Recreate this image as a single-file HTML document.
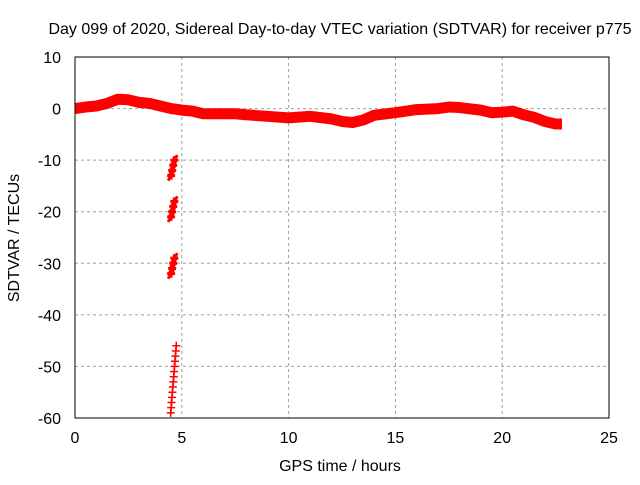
<!DOCTYPE html>
<html><head><meta charset="utf-8"><style>
body{margin:0;background:#fff}
text{font-family:"Liberation Sans",sans-serif;font-size:16px;fill:#000}
</style></head><body>
<svg id="chart" width="640" height="480" xmlns="http://www.w3.org/2000/svg">
<text x="340" y="34" text-anchor="middle">Day 099 of 2020, Sidereal Day-to-day VTEC variation (SDTVAR) for receiver p775</text>
<text x="340" y="471" text-anchor="middle">GPS time / hours</text>
<text transform="translate(19,238) rotate(-90)" text-anchor="middle">SDTVAR / TECUs</text>
<g id="grid"></g><g id="ticks"></g><g id="marks"></g>
<rect x="75" y="57" width="534" height="361" fill="none" stroke="#000" stroke-width="1"/>
</svg>
<script>
const xTicks=[0,5,10,15,20,25];
const yTicks=[10,0,-10,-20,-30,-40,-50,-60];
const bandHours=[0,0.5,1,1.5,2,2.5,3,3.5,4,4.5,5,5.5,6,6.5,7,7.5,8,9,10,11,12,12.5,13,13.5,14,15,16,17,17.5,18,19,19.5,20,20.5,21,21.5,22,22.5,22.8];
const bandValues=[0,0.3,0.5,1,1.8,1.7,1.2,1,0.5,0,-0.3,-0.5,-1,-1,-1,-1,-1.2,-1.5,-1.8,-1.5,-2,-2.5,-2.7,-2.2,-1.3,-0.8,-0.2,0,0.3,0.2,-0.3,-0.8,-0.7,-0.5,-1.2,-1.7,-2.5,-3,-3];
const spikeHours=[4.5,4.55,4.6,4.65,4.5,4.55,4.6,4.65,4.5,4.55,4.6,4.65];
const spikeValues=[-13,-12,-11,-10,-21,-20,-19,-18,-32,-31,-30,-29];
const tailHours=[4.48,4.5,4.52,4.54,4.56,4.58,4.6,4.62,4.64,4.66,4.68,4.7,4.72,4.74];
const tailValues=[-59,-58,-57,-56,-55,-54,-53,-52,-51,-50,-49,-48,-47,-46];
const X=h=>75+h*534/25, Y=v=>57+(10-v)*361/70;
const NS="http://www.w3.org/2000/svg";
function mk(t,a,p){const e=document.createElementNS(NS,t);for(const k in a)e.setAttribute(k,a[k]);p.appendChild(e);return e;}
const grid=document.getElementById('grid'),ticks=document.getElementById('ticks'),marks=document.getElementById('marks');
xTicks.forEach(t=>{
 if(t>0&&t<25){const g=mk('line',{x1:X(t),x2:X(t),y1:57,y2:418,stroke:'#a0a0a0','stroke-dasharray':'3,3'},grid);
 
 }
 const l=mk('text',{x:X(t),y:443,'text-anchor':'middle'},ticks);l.textContent=t;
 
 
});
yTicks.forEach(t=>{
 if(t<10&&t>-60){const g=mk('line',{x1:75,x2:609,y1:Y(t),y2:Y(t),stroke:'#a0a0a0','stroke-dasharray':'3,3'},grid);
 
 }
 const l=mk('text',{x:61,y:Y(t)+6,'text-anchor':'end'},ticks);l.textContent=t;
 
 
});
const pts=bandHours.map((h,i)=>X(h)+','+Y(bandValues[i])).join(' ');
const band=mk('polyline',{points:pts,fill:'none',stroke:'#ff0000','stroke-width':11,'stroke-linejoin':'round','stroke-linecap':'butt'},marks);


spikeHours.forEach((h,i)=>{
 const x=X(h),y=Y(spikeValues[i]);
 const p=mk('path',{d:`M${x-4},${y}H${x+4}M${x},${y-4}V${y+4}M${x-3},${y+5}L${x+3},${y-5}`,stroke:'#ff0000','stroke-width':3},marks);
 
 
});
tailHours.forEach((h,i)=>{
 const x=X(h),y=Y(tailValues[i]);
 const p=mk('path',{d:`M${x-4},${y}H${x+4}M${x},${y-4}V${y+4}`,stroke:'#ff0000','stroke-width':1.5},marks);
 
 
});
</script>
</body></html>
